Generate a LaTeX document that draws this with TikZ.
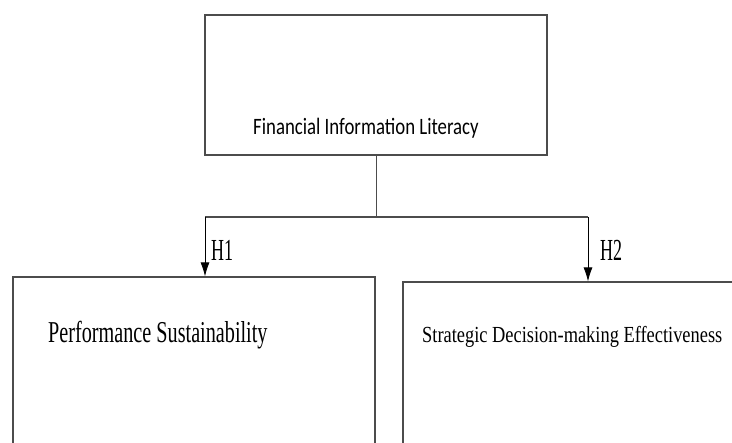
\documentclass[tikz,border=0pt]{standalone}
\usepackage{fontspec}
\usepackage{tikz}
\usetikzlibrary{positioning}
\usetikzlibrary{arrows.meta}
\newfontfamily\calfont{Carlito}
\newfontfamily\timesfont{Liberation Serif}
\colorlet{boxcol}{black!70}
\tikzset{>={Latex[length=14pt,width=9pt]}}
\tikzset{box/.style={draw=boxcol, line width=1.2pt, inner sep=0pt}}

\begin{document}
\begin{tikzpicture}[x=1pt,y=-1pt]
\useasboundingbox (0,0) rectangle (732,443);

% Boxes
\node[box, minimum width=342, minimum height=140] (fil) at (376,85) {};
\node[box, minimum width=362, minimum height=200] (ps) at (194,377) {};
\node[box, minimum width=360, minimum height=200] (sde) at (583,382) {};

% Texts
\node[font=\calfont\fontsize{18.8}{22}\selectfont, anchor=base] (filtext)
  at (366,135) {\scalebox{1}[1.25]{Financial Information Literacy}};
\node[font=\timesfont\fontsize{20.2}{24}\selectfont, anchor=base west, inner sep=0pt] (pstext)
  at (48,343) {\scalebox{1}[1.5]{Performance Sustainability}};
\node[font=\timesfont\fontsize{18.4}{22}\selectfont, anchor=base west, inner sep=0pt] (sdetext)
  at (422,343) {\scalebox{1}[1.25]{Strategic Decision-making Effectiveness}};

% Split
\coordinate (fork) at (fil.south |- 0,217);
\coordinate (h1turn) at (205,217);
\coordinate (h2turn) at (588,217);
\draw[boxcol, line width=1pt] (fil.south) -- (fork);
\draw[boxcol, line width=1.2pt] (h1turn) -- (h2turn);

% Hypotheses
\draw[->, line width=0.8pt] (h1turn) -- (h1turn |- ps.north);
\draw[->, line width=0.8pt] (h2turn) -- (h2turn |- sde.north);
\node[font=\timesfont\fontsize{18}{20}\selectfont, anchor=base west, inner sep=0pt] (h1)
  at (211,261) {\scalebox{1}[1.7]{H1}};
\node[font=\timesfont\fontsize{18}{20}\selectfont, anchor=base west, inner sep=0pt] (h2)
  at (600,261) {\scalebox{1}[1.7]{H2}};

\end{tikzpicture}
\end{document}
